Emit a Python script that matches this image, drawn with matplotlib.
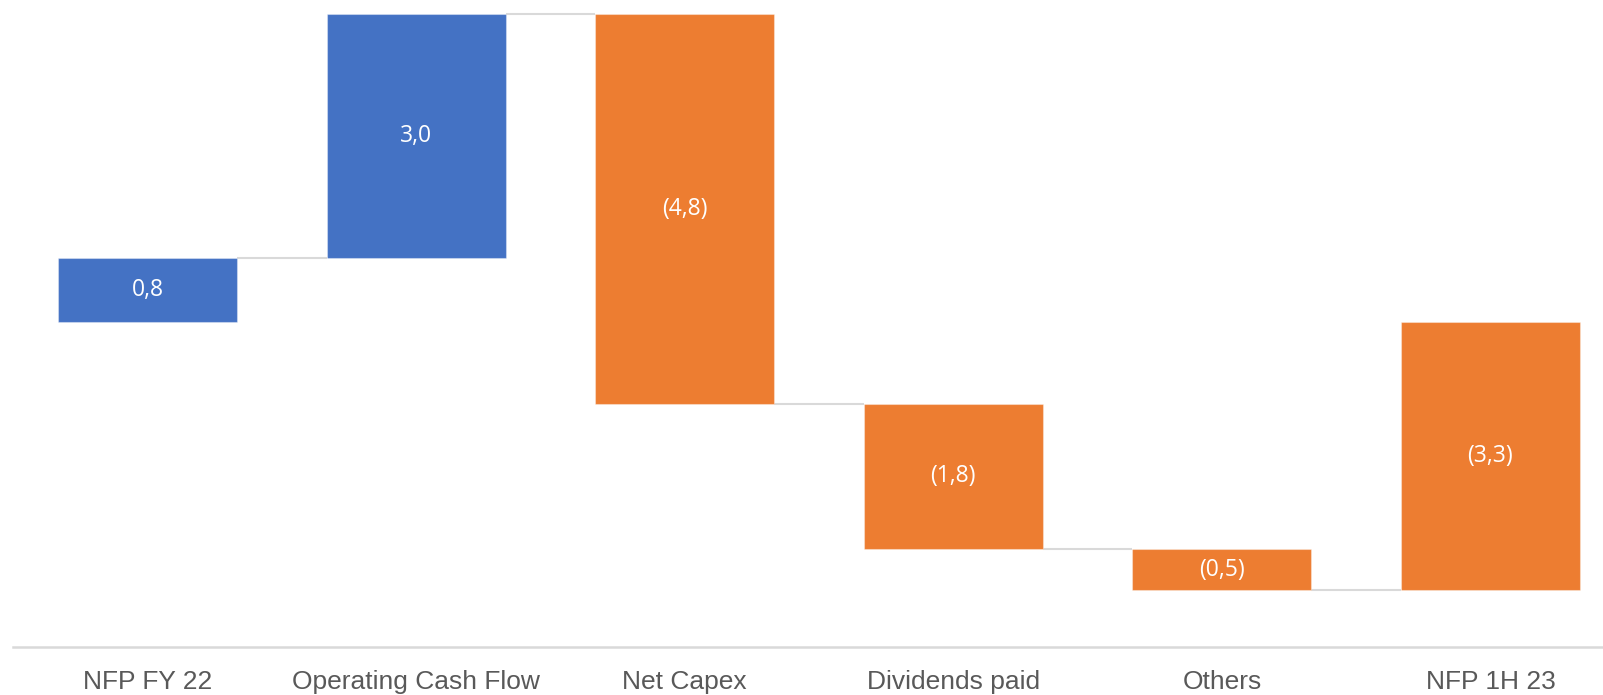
import matplotlib
matplotlib.use("Agg")
import matplotlib.pyplot as plt

categories = ["NFP FY 22", "Operating Cash Flow", "Net Capex", "Dividends paid", "Others", "NFP 1H 23"]
changes = [0.8, 3.0, -4.8, -1.8, -0.5]   # first is starting level, rest are deltas

BLUE = "#4472C4"
ORANGE = "#ED7D31"
GREY = "#D9D9D9"

# build bottoms/heights
bottoms, heights, vals = [], [], []
running = 0.0
for i, c in enumerate(categories):
    if i == 0:
        bottoms.append(0.0); heights.append(changes[0]); vals.append(changes[0])
        running = changes[0]
    elif i < len(categories) - 1:
        d = changes[i]
        bottoms.append(running); heights.append(d); vals.append(d)
        running += d
    else:
        bottoms.append(0.0); heights.append(running); vals.append(running)

def fmt(v):
    s = f"{abs(v):.1f}".replace(".", ",")
    return f"({s})" if v < 0 else s

fig = plt.figure(figsize=(16.03, 6.95), dpi=100)
left = 13.2 / 1603
right_px = 1624.8
ax = fig.add_axes([left, 0.0695, (right_px - 13.2) / 1603, 0.933])

x = list(range(len(categories)))
colors = [BLUE if v >= 0 else ORANGE for v in vals]
width = 0.666
ax.bar(x, heights, bottom=bottoms, width=width, color=colors,
       edgecolor=[(1, 1, 1, 0.35)] * len(x), linewidth=0.8, zorder=3)

# connectors
levels = []
r = 0.0
for i in range(len(categories) - 1):
    if i == 0:
        r = changes[0]
    else:
        r += changes[i]
    levels.append(r)
for i, lv in enumerate(levels):
    ax.plot([i + width / 2, i + 1 - width / 2], [lv, lv], color=GREY, lw=1.5, zorder=2,
            solid_capstyle="butt")

for i in x:
    ax.text(i, bottoms[i] + heights[i] / 2, fmt(vals[i]), ha="center", va="center",
            color="white", fontsize=16.5, family="Open Sans", zorder=4)

ax.set_xlim(-0.5, len(categories) - 0.5)
ax.set_ylim(-4, 4)
ax.set_yticks([])
ax.set_xticks(x)
ax.set_xticklabels(categories, fontsize=19, color="#595959", family="Liberation Sans")
ax.tick_params(axis="x", length=0, pad=17)
for s in ["top", "right", "left"]:
    ax.spines[s].set_visible(False)
ax.spines["bottom"].set_color(GREY)
ax.spines["bottom"].set_linewidth(1.8)
ax.set_facecolor("white")
fig.patch.set_facecolor("white")

fig.savefig("out.png", dpi=100, facecolor="white")
